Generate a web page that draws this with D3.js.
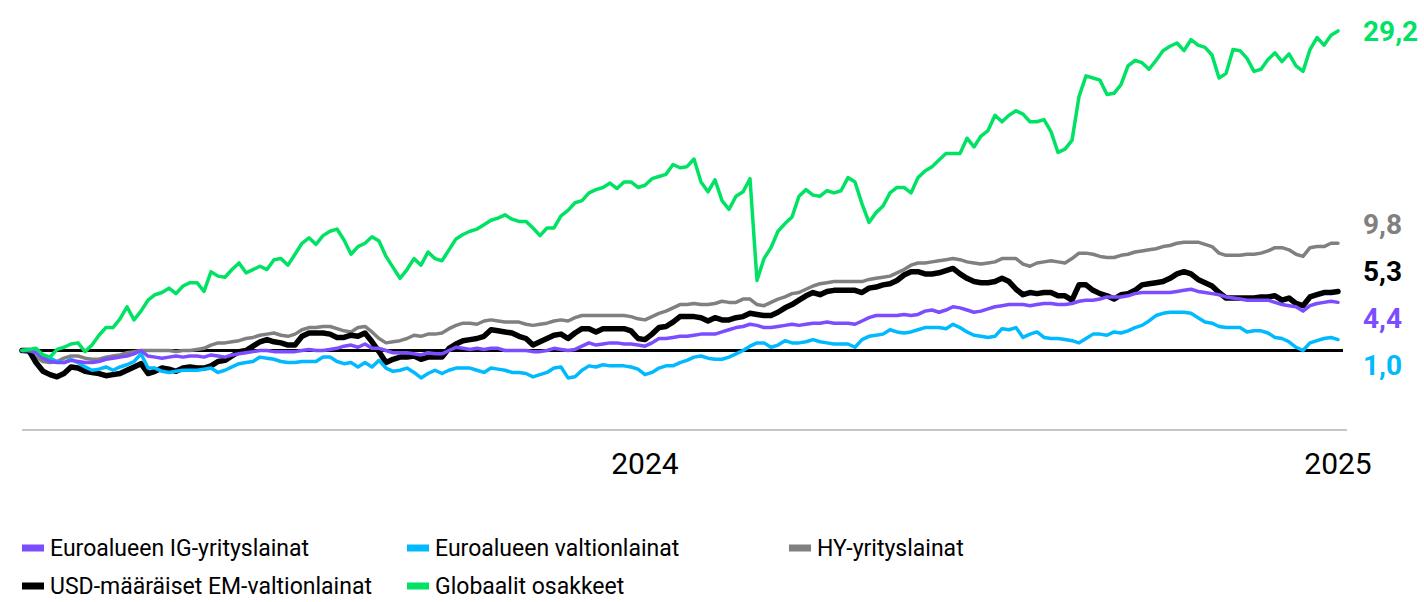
<!DOCTYPE html>
<html><head><meta charset="utf-8">
<script src="https://cdn.jsdelivr.net/npm/d3@7"></script>
<style>
html,body{margin:0;padding:0;background:#fff;}
svg{display:block;font-family:Roboto,"Noto Sans",sans-serif;}
</style></head>
<body>
<svg id="chart" width="1424" height="602"></svg>
<script>
// ---- data (cumulative return, %) ----
const startDate = "2023-02-06";
const endDate = "2025-01-01";
const tickLabels = ["2024", "2025"];
const tickDates = ["2024-01-01", "2025-01-01"];

const seriesNames = ["Euroalueen IG-yrityslainat", "Euroalueen valtionlainat", "HY-yrityslainat", "USD-määräiset EM-valtionlainat", "Globaalit osakkeet"];
const seriesColors = ["#7B4DFF", "#00B9FF", "#808080", "#000000", "#00E263"];
const endLabels = ["4,4", "1,0", "9,8", "5,3", "29,2"];

const igCorp = [0.0,0.0,-0.2,-0.7,-1.0,-1.1,-1.1,-0.9,-1.0,-1.1,
-1.1,-1.0,-0.8,-0.7,-0.6,-0.5,-0.3,0.0,-0.5,-0.6,
-0.7,-0.6,-0.5,-0.6,-0.5,-0.5,-0.6,-0.4,-0.5,-0.6,
-0.4,-0.3,-0.2,-0.1,0.0,0.0,-0.1,-0.1,-0.1,-0.1,
0.0,0.1,0.0,0.0,0.1,0.2,0.4,0.5,0.3,0.6,
0.2,0.2,0.0,-0.2,-0.2,-0.2,-0.3,-0.4,-0.2,-0.3,
-0.3,0.0,0.3,0.2,0.1,0.2,0.1,0.2,0.2,0.0,
0.0,0.0,0.0,-0.1,-0.1,0.0,0.2,0.1,0.0,0.1,
0.4,0.7,0.5,0.6,0.7,0.7,0.6,0.6,0.5,0.4,
0.7,1.1,1.1,1.2,1.3,1.3,1.4,1.5,1.5,1.5,
1.7,1.9,2.1,2.2,2.4,2.3,2.1,2.1,2.2,2.3,
2.4,2.3,2.4,2.5,2.5,2.6,2.5,2.5,2.5,2.4,
2.7,3.0,3.2,3.2,3.2,3.2,3.3,3.2,3.3,3.6,
3.7,3.5,3.7,4.0,3.9,3.7,3.5,3.6,3.8,4.0,
4.1,4.2,4.2,4.2,4.1,4.2,4.3,4.3,4.2,4.2,
4.3,4.5,4.6,4.6,4.7,4.9,4.9,4.9,5.0,5.2,
5.3,5.3,5.3,5.3,5.3,5.4,5.5,5.6,5.4,5.3,
5.2,5.1,4.9,4.8,4.7,4.6,4.6,4.6,4.6,4.4,
4.2,4.1,4.0,3.6,4.1,4.3,4.4,4.5,4.4];

const euroGov = [0.0,0.0,-0.1,-0.4,-0.7,-1.0,-1.1,-0.8,-1.1,-1.5,
-1.8,-1.7,-1.5,-1.8,-1.5,-1.3,-1.0,-0.3,-1.6,-1.6,
-1.9,-2.0,-1.9,-1.8,-1.8,-1.8,-1.7,-1.6,-2.0,-1.8,
-1.5,-1.2,-1.1,-1.0,-0.6,-0.7,-0.8,-1.0,-1.1,-1.1,
-1.0,-1.0,-1.0,-0.6,-0.6,-1.0,-1.2,-1.1,-1.5,-1.1,
-1.5,-0.9,-1.6,-1.9,-1.8,-1.6,-2.0,-2.5,-2.1,-1.8,
-2.1,-1.8,-1.6,-1.6,-1.6,-1.8,-2.0,-1.6,-1.7,-1.8,
-2.0,-2.0,-2.1,-2.4,-2.2,-2.0,-1.6,-1.5,-2.5,-2.4,
-1.8,-1.4,-1.5,-1.3,-1.4,-1.4,-1.4,-1.5,-1.7,-2.2,
-2.0,-1.6,-1.4,-1.4,-1.1,-0.9,-0.6,-0.5,-0.7,-0.8,
-0.8,-0.6,-0.3,0.0,0.4,0.7,0.7,0.3,0.5,0.9,
0.7,0.7,0.8,1.0,0.8,0.7,0.6,0.6,0.6,0.3,
1.0,1.3,1.4,1.5,1.9,1.7,1.6,1.7,1.9,2.1,
2.1,2.1,2.0,2.4,2.1,1.7,1.4,1.3,1.2,1.3,
2.0,1.9,2.1,1.2,1.5,1.7,1.2,1.1,1.1,1.0,
0.9,0.7,1.1,1.5,1.5,1.4,1.7,1.6,1.8,2.1,
2.3,2.7,3.2,3.4,3.5,3.5,3.5,3.4,3.0,2.6,
2.5,2.2,2.1,2.1,2.1,1.7,1.8,1.8,1.6,1.2,
1.1,0.8,0.3,0.0,0.7,0.9,1.1,1.2,1.0];

const hyCorp = [0.0,-0.2,-0.6,-1.0,-1.1,-1.0,-0.7,-0.5,-0.5,-0.7,
-0.8,-0.8,-0.6,-0.5,-0.4,-0.2,-0.1,0.0,0.0,0.0,
0.0,0.0,-0.1,0.0,0.0,0.1,0.2,0.5,0.7,0.7,
0.8,0.9,1.1,1.2,1.4,1.5,1.6,1.4,1.3,1.5,
1.9,2.1,2.1,2.2,2.2,2.0,1.8,1.7,2.1,2.2,
1.7,1.1,0.7,0.8,0.9,1.1,1.4,1.3,1.5,1.5,
1.6,2.0,2.3,2.5,2.5,2.4,2.7,2.8,2.7,2.6,
2.6,2.6,2.4,2.3,2.4,2.5,2.7,2.8,2.7,3.0,
3.2,3.2,3.2,3.2,3.2,3.2,3.2,3.1,2.9,2.8,
3.1,3.4,3.6,3.9,4.2,4.2,4.3,4.2,4.2,4.3,
4.5,4.4,4.4,4.7,4.7,4.2,4.1,4.4,4.7,4.9,
5.2,5.3,5.6,5.9,6.1,6.2,6.3,6.3,6.3,6.3,
6.3,6.5,6.6,6.7,6.8,7.1,7.4,7.8,8.0,8.0,
8.1,8.2,8.3,8.4,8.3,8.1,8.0,7.9,8.0,8.1,
8.4,8.4,8.4,7.9,7.7,8.0,8.1,8.2,8.1,8.0,
8.4,8.9,8.9,8.8,8.6,8.5,8.5,8.7,8.8,9.0,
9.1,9.2,9.3,9.5,9.6,9.8,9.9,9.9,9.9,9.7,
9.5,8.9,8.7,8.7,8.7,8.8,8.8,8.9,9.1,9.4,
9.4,9.2,8.8,8.6,9.4,9.5,9.5,9.8,9.8];

const emUsd = [0.0,0.0,-1.1,-1.9,-2.2,-2.4,-2.1,-1.5,-1.6,-1.9,
-2.0,-2.1,-2.3,-2.2,-2.1,-1.8,-1.5,-1.2,-2.1,-1.9,
-1.6,-1.7,-1.9,-1.6,-1.5,-1.6,-1.6,-1.4,-1.0,-0.9,
-0.5,-0.1,0.0,0.4,0.8,1.0,0.8,0.7,0.5,0.5,
1.3,1.6,1.6,1.6,1.5,1.2,1.2,1.4,1.3,1.6,
0.8,-0.1,-1.1,-0.8,-0.6,-0.6,-0.5,-0.8,-0.6,-0.6,
-0.6,0.2,0.6,0.9,1.0,1.1,1.3,1.9,1.8,1.7,
1.6,1.3,1.1,0.5,0.8,1.1,1.4,1.5,1.1,1.6,
2.0,2.0,1.7,2.0,2.0,2.0,2.0,1.8,1.1,1.0,
1.5,2.1,2.2,2.6,3.1,3.1,3.1,3.0,2.7,3.0,
2.8,2.8,3.0,3.1,3.4,3.3,3.2,3.2,3.5,3.9,
4.2,4.6,5.0,5.3,5.1,5.4,5.5,5.5,5.5,5.5,
5.3,5.7,5.8,6.0,6.1,6.4,6.9,7.2,7.2,7.0,
7.0,7.1,7.3,7.5,7.0,6.6,6.3,6.2,6.2,6.3,
6.6,6.3,5.6,5.1,5.3,5.2,5.3,5.3,5.0,5.0,
4.6,6.0,6.0,5.5,5.2,5.0,4.7,5.1,5.2,5.5,
6.0,6.1,6.2,6.3,6.6,7.0,7.2,7.0,6.5,6.2,
5.9,5.3,4.8,4.8,4.8,4.8,4.8,4.9,4.9,5.0,
4.6,4.8,4.3,4.1,4.9,5.1,5.3,5.3,5.4];

const globalEq = [0.0,0.1,0.2,-0.4,-0.6,0.1,0.3,0.6,0.7,-0.1,
0.5,1.4,2.1,2.1,2.9,4.0,2.8,3.6,4.6,5.1,
5.3,5.7,5.2,5.9,6.2,6.2,5.4,7.2,6.8,6.7,
7.4,8.0,7.1,7.4,7.7,7.4,8.3,8.4,7.8,8.8,
9.8,10.3,9.7,10.5,10.9,11.1,10.1,8.8,9.5,9.8,
10.4,10.0,8.6,7.6,6.6,7.4,8.4,7.8,9.0,8.4,
8.2,9.2,10.2,10.6,10.9,11.1,11.5,11.9,12.1,12.4,
12.0,11.8,11.8,11.2,10.5,11.2,11.2,12.3,12.8,13.5,
13.7,14.4,14.7,14.9,15.3,14.8,15.4,15.4,14.9,15.1,
15.7,15.9,16.1,17.0,16.7,16.8,17.5,15.4,14.5,15.6,
13.7,12.9,14.1,14.5,15.7,6.4,8.4,9.4,10.9,11.6,
12.2,14.1,14.7,14.2,14.1,14.6,14.4,14.6,15.8,15.4,
13.4,11.7,12.6,13.2,14.4,14.9,14.9,14.4,15.8,16.4,
16.8,17.4,18.0,18.0,18.0,19.4,18.6,19.6,20.1,21.5,
20.9,21.5,21.9,21.6,20.9,20.9,21.1,20.0,18.1,18.4,
19.2,23.2,25.1,24.9,24.7,23.4,23.5,24.3,26.0,26.5,
26.3,25.7,26.5,27.4,27.8,28.1,27.4,28.4,27.9,27.7,
27.0,24.9,25.3,27.5,27.4,26.7,25.5,25.7,26.6,27.2,
26.4,27.1,26.0,25.5,27.5,28.6,27.9,28.8,29.2];

// ---- chart ----
const svg = d3.select("#chart");
const parse = d3.utcParse("%Y-%m-%d");
const t0 = parse(startDate), t1 = parse(endDate);
const N = igCorp.length;
const dates = d3.range(N).map(i => new Date(+t0 + i * (t1 - t0) / (N - 1)));

const x = d3.scaleUtc().domain([t0, t1]).range([22, 1338]);
const y = d3.scaleLinear().domain([-7.26, 30.2]).range([430, 20]);

const allSeries = [igCorp, euroGov, hyCorp, emUsd, globalEq];

// bottom axis line
svg.append("line").attr("x1", 22).attr("x2", 1347).attr("y1", y(-7.26)).attr("y2", y(-7.26))
  .attr("stroke", "#c6c6c6").attr("stroke-width", 2);

// x tick labels
svg.selectAll("text.xtick").data(tickLabels).join("text")
  .attr("class", "xtick")
  .attr("x", (d, i) => x(parse(tickDates[i])))
  .attr("y", 474)
  .attr("text-anchor", "middle")
  .attr("font-size", 30)
  .attr("fill", "#000")
  .text(d => d);

// zero line
svg.append("line").attr("x1", 22).attr("x2", 1343).attr("y1", y(0)).attr("y2", y(0))
  .attr("stroke", "#000").attr("stroke-width", 3);

const line = d3.line().x((d, i) => x(dates[i])).y(d => y(d));
const drawOrder = [2, 3, 1, 0, 4];
const widths = [3.5, 3.5, 3.5, 5.5, 3.5];
drawOrder.forEach(k => {
  svg.append("path").datum(allSeries[k])
    .attr("fill", "none")
    .attr("stroke", seriesColors[k])
    .attr("stroke-width", widths[k])
    .attr("stroke-linejoin", "round")
    .attr("stroke-linecap", "round")
    .attr("d", line);
});

// end labels with collision avoidance
const gap = 47;
let items = allSeries.map((s, k) => ({k, target: y(s[s.length - 1])})).sort((a, b) => a.target - b.target);
let groups = items.map(it => ({members: [it], mean: it.target}));
let merged = true;
while (merged) {
  merged = false;
  for (let g = 0; g < groups.length - 1; g++) {
    const A = groups[g], B = groups[g + 1];
    const aBottom = A.mean + (A.members.length - 1) / 2 * gap;
    const bTop = B.mean - (B.members.length - 1) / 2 * gap;
    if (bTop - aBottom < gap) {
      const members = A.members.concat(B.members);
      groups.splice(g, 2, {members, mean: d3.mean(members, m => m.target)});
      merged = true;
      break;
    }
  }
}
groups.forEach(g => g.members.forEach((m, j) => { m.pos = g.mean + (j - (g.members.length - 1) / 2) * gap; }));
items.forEach(m => {
  svg.append("text")
    .attr("x", 1363).attr("y", m.pos)
    .attr("dy", "0.36em")
    .attr("font-size", 28).attr("font-weight", 700)
    .attr("fill", seriesColors[m.k])
    .text(endLabels[m.k]);
});

// legend
const legendPos = [[22, 548], [407, 548], [789, 548], [22, 586], [407, 586]];
seriesNames.forEach((name, k) => {
  const [lx, ly] = legendPos[k];
  svg.append("rect").attr("x", lx).attr("y", ly - 3.5).attr("width", 22).attr("height", 7)
    .attr("fill", seriesColors[k]);
  svg.append("text").attr("x", lx + 28).attr("y", ly).attr("dy", "0.35em")
    .attr("font-size", 23).attr("fill", "#000").text(name);
});
</script>
</body></html>
